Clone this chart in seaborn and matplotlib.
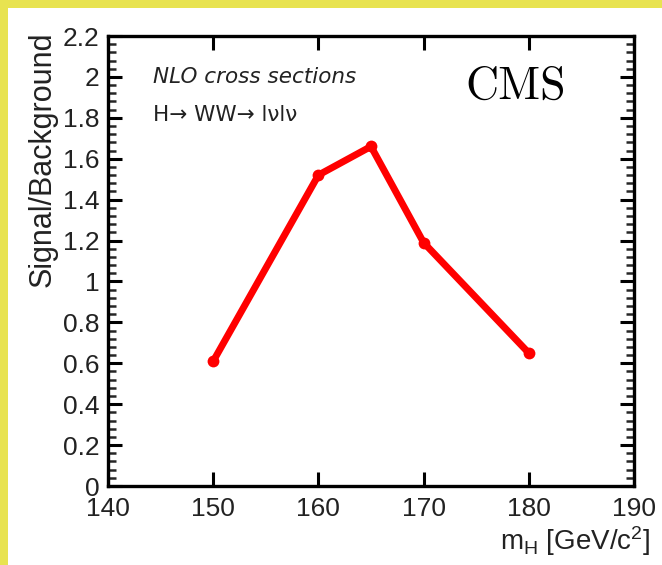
import matplotlib
matplotlib.use("Agg")
import matplotlib.pyplot as plt
import matplotlib.ticker as mticker
from matplotlib.patches import Rectangle
import seaborn as sns
import pandas as pd

# Data
mass = [150, 160, 165, 170, 180]
signal_over_bkg = [0.61, 1.52, 1.66, 1.19, 0.65]
x_ticks = [140, 150, 160, 170, 180, 190]
y_ticks = [0, 0.2, 0.4, 0.6, 0.8, 1.0, 1.2, 1.4, 1.6, 1.8, 2.0, 2.2]

sns.set_theme(style="ticks")
plt.rcParams["font.family"] = ["Liberation Sans", "DejaVu Sans"]
plt.rcParams["mathtext.fontset"] = "custom"
plt.rcParams["mathtext.rm"] = "Liberation Sans"
plt.rcParams["mathtext.it"] = "Liberation Sans:italic"

df = pd.DataFrame({"mH": mass, "SB": signal_over_bkg})

fig = plt.figure(figsize=(6.62, 5.65), dpi=100)
fig.patch.set_facecolor("white")
# yellow frame strips (top and left)
fig.patches.append(Rectangle((0, 1 - 8 / 565), 1, 8 / 565, transform=fig.transFigure,
                             facecolor="#E8E350", edgecolor="none", zorder=0))
fig.patches.append(Rectangle((0, 0), 8 / 662, 1, transform=fig.transFigure,
                             facecolor="#E8E350", edgecolor="none", zorder=0))

ax = fig.add_axes([108 / 662, 1 - 486 / 565, 526 / 662, 450 / 565])
sns.lineplot(data=df, x="mH", y="SB", ax=ax, color="#FF0000", linewidth=5,
             marker="o", markersize=8.5, markeredgewidth=0, sort=False)

ax.set_xlim(140, 190)
ax.set_ylim(0, 2.2)
ax.set_xticks(x_ticks)
ax.set_yticks(y_ticks)
fmt = mticker.FuncFormatter(lambda v, p: f"{v:g}")
ax.xaxis.set_major_formatter(fmt)
ax.yaxis.set_major_formatter(fmt)
ax.yaxis.set_minor_locator(mticker.MultipleLocator(0.04))

for s in ax.spines.values():
    s.set_linewidth(2.4)
    s.set_color("black")

ax.tick_params(axis="both", which="major", direction="in", length=10, width=2.2,
               labelsize=19, top=True, right=True, colors="black")
ax.tick_params(axis="y", which="minor", direction="in", length=5.5, width=1.8,
               left=True, right=True)
ax.tick_params(axis="y", which="major", pad=6)
ax.tick_params(axis="x", which="major", pad=8)
for lab in ax.get_xticklabels() + ax.get_yticklabels():
    lab.set_color("#222222")

ax.set_ylabel("Signal/Background", fontsize=22, loc="top", color="#222222")
ax.yaxis.set_label_coords(-0.095, 1.01)
ax.set_xlabel(r"m$_\mathrm{H}$ [GeV/c$^2$]", fontsize=20, loc="right", color="#222222")
ax.xaxis.set_label_coords(1.03, -0.085)

ax.text(144.3, 2.0, "NLO cross sections", fontsize=15.5, style="italic",
        family=["DejaVu Sans"], color="#222222", va="center", ha="left")
ax.text(144.3, 1.814, "H\u2192 WW\u2192 l\u03bdl\u03bd", fontsize=15.5,
        family=["DejaVu Sans"], color="#222222", va="center", ha="left")
ax.text(178.8, 1.95, "CMS", fontsize=33, family="cmr10", color="black",
        va="center", ha="center")

ax.set_facecolor("white")
fig.savefig("out.png", dpi=100, facecolor="white")
